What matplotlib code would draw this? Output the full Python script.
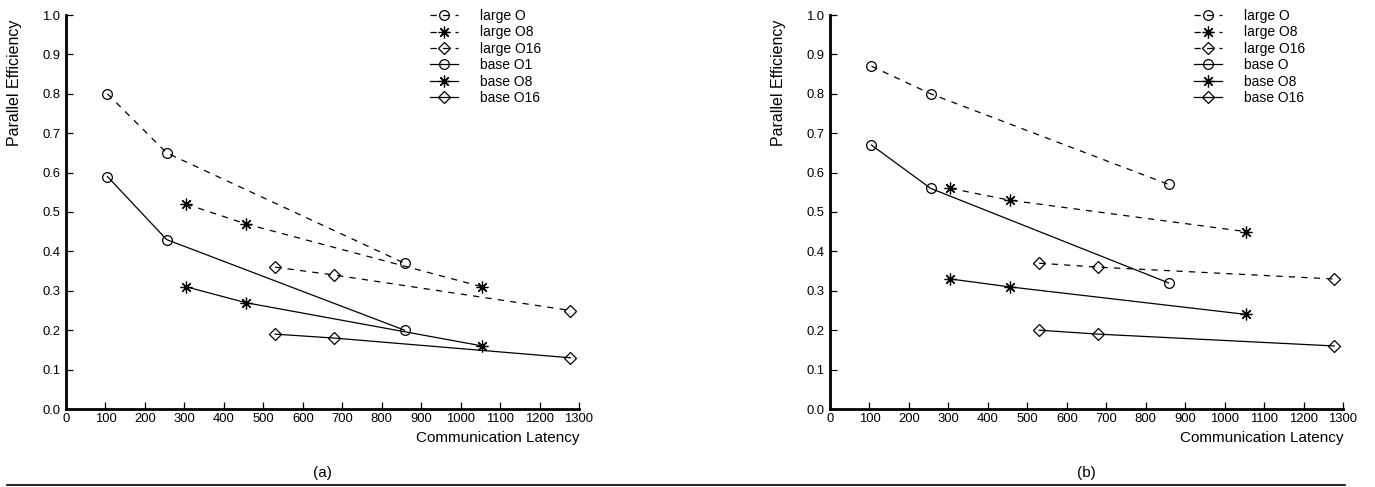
import matplotlib
matplotlib.use("Agg")
import matplotlib.pyplot as plt
from matplotlib.lines import Line2D

plt.rcParams['font.family'] = ['Liberation Sans', 'DejaVu Sans']
plt.rcParams['lines.scale_dashes'] = False

# Communication latency values for each organisation
lat_O = [105, 255, 858]
lat_O8 = [305, 455, 1055]
lat_O16 = [530, 680, 1278]

# Panel (a)
a_large_O = [0.80, 0.65, 0.37]
a_large_O8 = [0.52, 0.47, 0.31]
a_large_O16 = [0.36, 0.34, 0.25]
a_base_O = [0.59, 0.43, 0.20]
a_base_O8 = [0.31, 0.27, 0.16]
a_base_O16 = [0.19, 0.18, 0.13]

# Panel (b)
b_large_O = [0.87, 0.80, 0.57]
b_large_O8 = [0.56, 0.53, 0.45]
b_large_O16 = [0.37, 0.36, 0.33]
b_base_O = [0.67, 0.56, 0.32]
b_base_O8 = [0.33, 0.31, 0.24]
b_base_O16 = [0.20, 0.19, 0.16]

labels_a = ["large O", "large O8", "large O16", "base O1", "base O8", "base O16"]
labels_b = ["large O", "large O8", "large O16", "base O", "base O8", "base O16"]
xticks = list(range(0, 1301, 100))
yticks = [i / 10 for i in range(11)]

W, H = 1375, 487
fig = plt.figure(figsize=(W / 100, H / 100), dpi=100)

star = (8, 2, 0)
markers = ['o', star, 'D', 'o', star, 'D']
msizes = [7, 8.5, 6, 7, 8.5, 6]
styles = ['dashed'] * 3 + ['solid'] * 3


def panel(left_px, series, labels, tag):
    ax = fig.add_axes([left_px / W, (H - 409) / H, 513 / W, 394 / H])
    xs = [lat_O, lat_O8, lat_O16, lat_O, lat_O8, lat_O16]
    for x, y, m, ms, ls, lab in zip(xs, series, markers, msizes, styles, labels):
        kw = dict(color='black', lw=0.9, marker=m, markersize=ms, mfc='none',
                  mec='black', mew=0.9, label=lab, clip_on=False)
        if ls == 'dashed':
            ax.plot(x, y, linestyle=(0, (4.5, 4.5)), **kw)
        else:
            ax.plot(x, y, linestyle='-', **kw)
    ax.set_xlim(0, 1300)
    ax.set_ylim(0, 1.0)
    ax.set_xticks(xticks)
    ax.set_yticks(yticks)
    ax.set_yticklabels([f"{v:.1f}" for v in yticks])
    for s in ['top', 'right']:
        ax.spines[s].set_visible(False)
    for s in ['left', 'bottom']:
        ax.spines[s].set_linewidth(2.0)
    ax.tick_params(axis='both', direction='in', length=5, width=0.9,
                   labelsize=9.4, colors='black')
    ax.tick_params(axis='x', pad=3)
    ax.tick_params(axis='y', pad=4)
    ax.text(1.0, -0.073, "Communication Latency", transform=ax.transAxes,
            ha='right', va='center', fontsize=11)
    fig.text((left_px - 51) / W, 1 - 20 / H, "Parallel Efficiency", rotation=90,
             ha='center', va='top', fontsize=11.5)
    fig.text((left_px + 256) / W, 1 - 473 / H, tag, ha='center', va='center',
             fontsize=11)
    ax.legend(loc='upper left', bbox_to_anchor=(0.7096, 1.015), frameon=False,
              fontsize=10, handlelength=2.0, handletextpad=1.6,
              labelspacing=0.17, borderpad=0, borderaxespad=0, numpoints=1)
    return ax


panel(66, [a_large_O, a_large_O8, a_large_O16, a_base_O, a_base_O8, a_base_O16],
      labels_a, "(a)")
panel(830, [b_large_O, b_large_O8, b_large_O16, b_base_O, b_base_O8, b_base_O16],
      labels_b, "(b)")

fig.add_artist(Line2D([7 / W, 1345 / W], [1 - 485 / H, 1 - 485 / H],
                      transform=fig.transFigure, color='black', lw=1.2))

fig.savefig("out.png", dpi=100)
